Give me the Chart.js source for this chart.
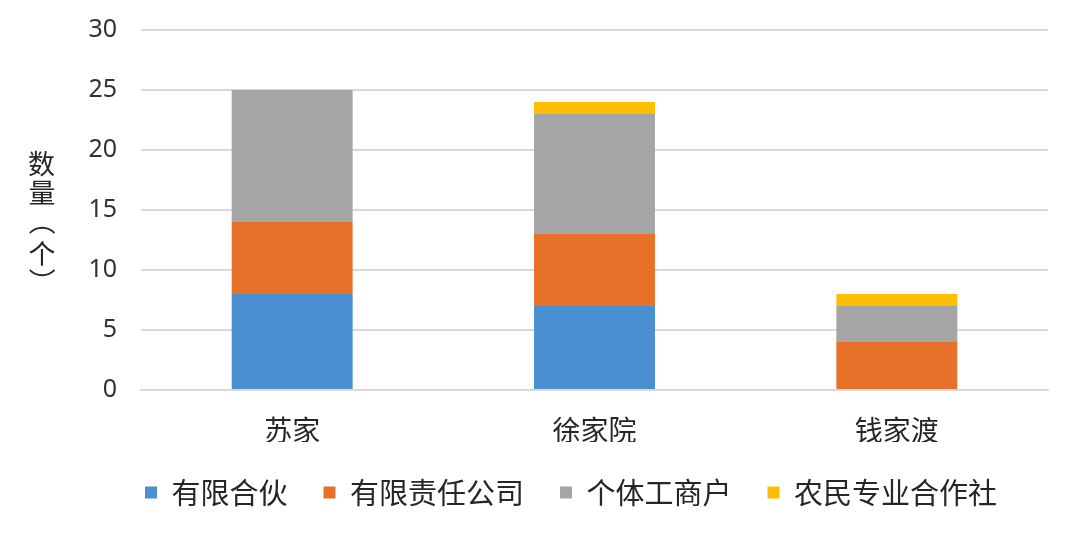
<!DOCTYPE html>
<html>
<head>
<meta charset="utf-8">
<script src="https://cdn.jsdelivr.net/npm/chart.js@4.4.1/dist/chart.umd.min.js"></script>
<style>
html,body{margin:0;padding:0;background:#fff;}
#wrap{width:1080px;height:547px;position:relative;}
</style>
</head>
<body>
<div id="wrap"><canvas id="c" width="1080" height="547"></canvas></div>
<script>
const categories = ['苏家', '徐家院', '钱家渡'];
const seriesNames = ['有限合伙', '有限责任公司', '个体工商户', '农民专业合作社'];
const limitedPartnership = [8, 7, 0];
const limitedCompany = [6, 6, 4];
const individualBusiness = [11, 10, 3];
const farmerCoop = [0, 1, 1];
const yTitleChars = ['数', '量', '（', '个', '）'];
const colors = ['#4a8fd0', '#e8712a', '#a5a5a5', '#fdbd00'];

const CJK = '"Noto Sans CJK SC", "Noto Sans", sans-serif';

const yTitlePlugin = {
  id: 'yTitle',
  afterLayout(chart) {
    // shift legend to the right, as in the reference
    const lg = chart.legend;
    if (lg) { lg.left += 47; lg.right += 47; }
  },
  afterDraw(chart) {
    const ctx = chart.ctx;
    ctx.save();
    ctx.fillStyle = '#262626';
    ctx.font = '27px ' + CJK;
    ctx.textAlign = 'left';
    ctx.textBaseline = 'alphabetic';
    const x = 42;
    const ys = [163, 192, 230, 253, 273];
    yTitleChars.forEach((ch, i) => {
      const m = ctx.measureText(ch);
      const cx = (m.actualBoundingBoxRight - m.actualBoundingBoxLeft) / 2;
      const cy = (m.actualBoundingBoxDescent - m.actualBoundingBoxAscent) / 2;
      ctx.save();
      ctx.translate(x, ys[i]);
      if (ch === '（' || ch === '）') ctx.rotate(Math.PI / 2);
      ctx.fillText(ch, -cx, -cy);
      ctx.restore();
    });
    ctx.restore();
  }
};

const data = [limitedPartnership, limitedCompany, individualBusiness, farmerCoop];

new Chart(document.getElementById('c'), {
  type: 'bar',
  data: {
    labels: categories,
    datasets: seriesNames.map((name, i) => ({
      label: name,
      data: data[i],
      backgroundColor: colors[i],
      borderWidth: 0,
      barPercentage: 0.4,
      categoryPercentage: 1.0
    }))
  },
  options: {
    responsive: false,
    animation: false,
    devicePixelRatio: 1,
    layout: { padding: { top: 30, right: 32, bottom: 30, left: 0 } },
    plugins: {
      legend: {
        position: 'bottom',
        labels: {
          boxWidth: 12,
          boxHeight: 12,
          padding: 36,
          color: '#262626',
          font: { size: 29, family: CJK }
        }
      },
      tooltip: { enabled: false }
    },
    scales: {
      x: {
        stacked: true,
        grid: { display: false, drawTicks: false },
        border: { display: true, color: '#d9d9d9', width: 2 },
        ticks: { color: '#262626', padding: 24, font: { size: 28, family: CJK } },
        afterFit(s) { s.height = 52; s.paddingLeft = 0; s.paddingRight = 0; }
      },
      y: {
        stacked: true,
        min: 0,
        max: 30,
        grid: { color: '#d9d9d9', lineWidth: 2, drawTicks: false },
        border: { display: false },
        ticks: { stepSize: 5, color: '#333333', padding: 24, font: { size: 25, family: '"Noto Sans", sans-serif' } },
        afterFit(s) { s.width = 141; s.paddingTop = 0; s.paddingBottom = 0; }
      }
    }
  },
  plugins: [yTitlePlugin]
});
</script>
</body>
</html>
